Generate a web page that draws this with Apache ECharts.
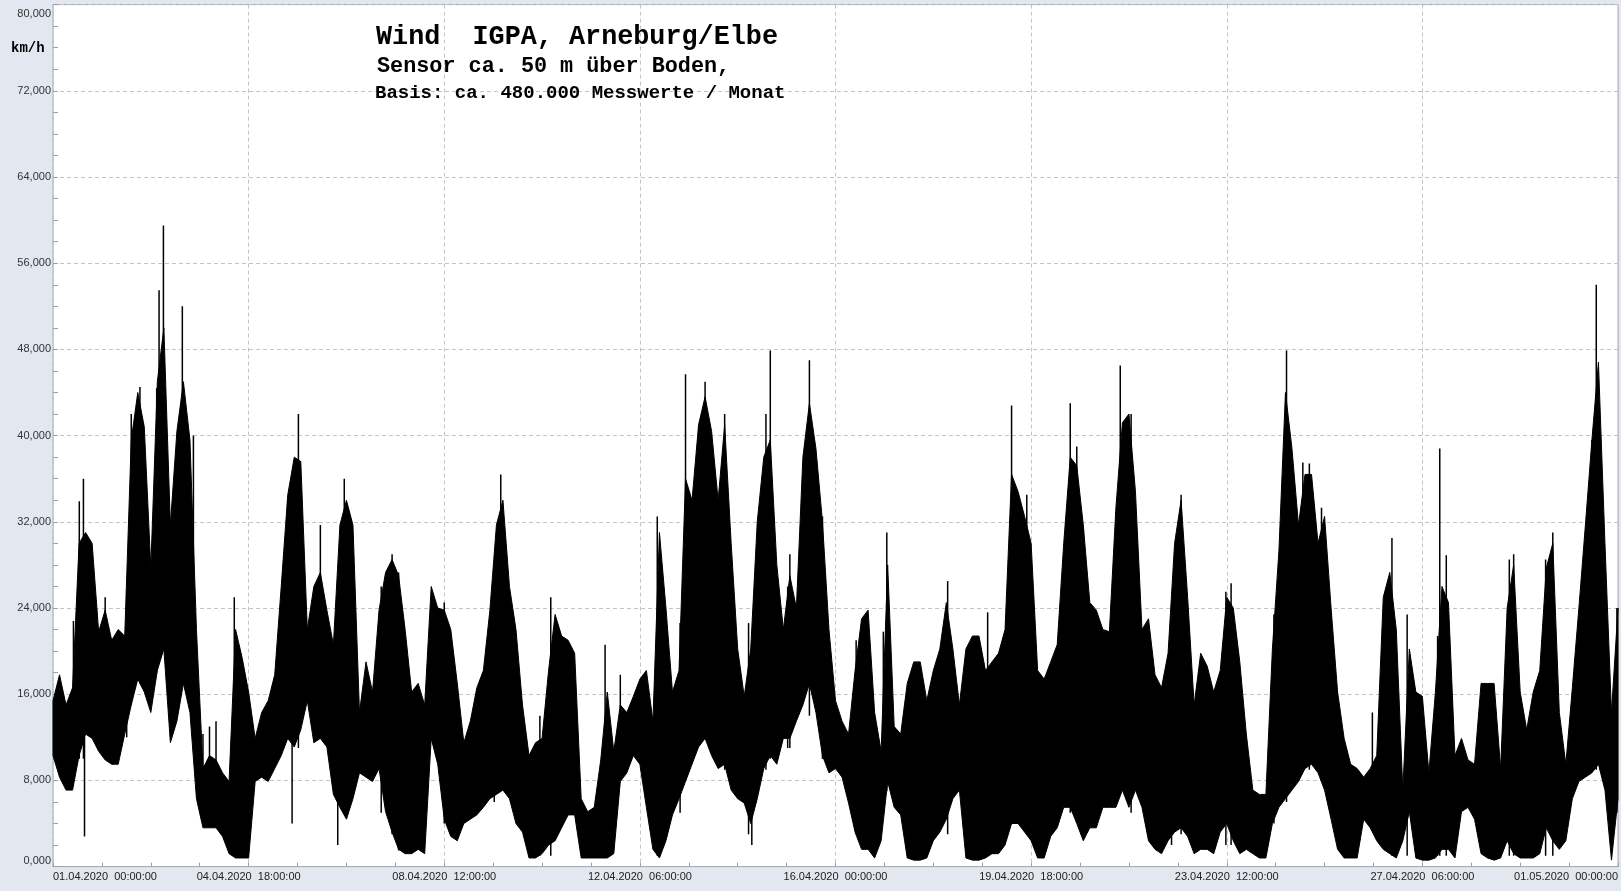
<!DOCTYPE html>
<html>
<head>
<meta charset="utf-8">
<script src="https://cdn.jsdelivr.net/npm/echarts@6/dist/echarts.min.js"></script>
<style>
html,body{margin:0;padding:0;background:#e3e7ef;}
#c{width:1621px;height:891px;}
</style>
</head>
<body>
<div id="c"></div>
<script>
// time step of the envelope arrays (hours from 01.04.2020 00:00)
const stepHours = 3;
// upper envelope of the wind speed (km/h), one value per 3 h
const upper = [
15.4,17.8,15.0,16.6,30.0,31.0,30.0,21.8,23.8,21.0,
22.0,21.4,39.6,44.0,40.8,27.7,45.0,50.0,31.7,40.4,
45.0,39.6,22.0,9.1,10.3,9.9,8.7,7.9,22.0,19.4,
16.2,11.9,14.3,15.4,17.8,26.0,34.5,38.0,37.6,22.0,
26.0,27.3,23.8,20.6,31.7,34.0,31.7,14.3,19.0,16.2,
23.8,27.3,28.5,27.0,22.0,16.2,17.0,15.0,26.0,24.0,
23.8,22.0,17.0,11.5,13.5,16.6,18.2,23.8,31.7,34.0,
26.0,22.0,15.0,10.3,11.5,11.9,18.2,23.4,21.4,21.0,
19.8,6.3,5.1,5.5,9.9,16.2,10.7,15.0,14.3,15.8,
17.4,18.2,13.5,31.0,24.0,16.2,18.2,36.0,34.0,41.0,
43.6,40.4,34.0,41.0,30.0,20.2,15.8,20.2,32.0,38.0,
39.6,28.0,22.0,27.0,24.0,38.0,43.0,38.8,32.0,22.0,
15.4,13.5,12.3,18.2,23.0,23.8,14.3,10.7,28.0,13.0,
12.3,17.0,19.0,19.0,15.4,18.2,20.2,24.5,20.2,15.0,
20.2,21.4,21.4,18.2,19.0,19.8,22.0,36.4,34.8,32.5,
30.0,18.2,17.4,19.0,20.6,30.0,38.0,37.2,31.7,24.5,
23.8,22.0,21.8,33.3,41.2,42.0,34.8,22.0,23.0,17.8,
16.6,19.8,30.0,34.0,25.0,15.0,19.8,18.6,16.2,18.2,
25.0,24.0,19.0,12.3,7.1,6.7,6.7,20.2,29.3,44.0,
38.8,31.7,36.4,36.4,30.0,32.5,24.0,16.2,11.9,9.5,
9.1,8.3,9.1,10.3,25.0,27.3,22.0,7.1,20.2,16.2,
15.8,8.7,16.2,26.0,24.5,10.3,11.9,9.9,9.5,17.0,
17.0,17.0,9.1,24.0,28.0,16.2,12.7,16.2,18.2,27.7,
30.0,14.3,9.5,16.6,24.0,31.7,39.6,46.8,30.0,14.3,
24.0
];
// lower envelope of the wind speed (km/h), one value per 3 h
const lower = [
10.3,8.3,7.1,7.1,10.3,12.3,11.9,10.7,9.9,9.5,
9.5,12.3,15.0,17.4,16.2,14.3,18.2,20.2,11.5,13.5,
17.0,14.3,6.3,3.6,3.6,3.6,2.8,1.2,0.8,0.8,
0.8,7.9,8.3,7.9,9.1,10.3,11.9,11.1,12.7,15.4,
11.5,11.9,11.1,6.7,5.5,4.4,6.3,8.7,8.3,7.9,
9.1,5.1,3.2,1.6,1.2,1.2,1.6,1.2,11.9,9.5,
4.4,2.8,2.4,4.0,4.4,4.8,5.5,6.3,6.7,7.1,
6.3,4.0,3.2,0.8,0.8,1.2,2.0,2.4,3.6,4.8,
4.8,0.8,0.8,0.8,0.8,0.8,1.2,7.9,8.7,10.3,
9.5,5.5,1.6,0.8,2.4,4.8,6.3,7.9,9.5,11.1,
11.9,10.3,9.1,9.5,7.1,6.3,5.9,4.0,6.3,9.1,
10.3,9.5,11.9,11.9,13.5,15.0,17.0,14.3,10.3,8.7,
9.1,8.3,5.9,3.2,1.6,1.6,0.8,2.4,7.9,5.5,
4.8,0.8,0.6,0.6,0.8,2.4,3.2,4.4,6.3,7.1,
0.8,0.6,0.6,0.8,1.2,1.2,2.0,4.0,4.0,3.2,
2.4,0.8,0.8,2.8,3.6,5.5,5.5,4.0,2.4,3.6,
3.6,5.5,5.5,5.5,7.1,5.5,7.1,5.5,2.4,1.6,
1.2,2.4,3.2,3.6,2.8,1.2,1.6,1.6,1.2,3.2,
4.0,2.4,1.2,1.6,1.2,0.8,0.8,4.0,5.5,6.3,
7.1,7.9,9.1,9.5,8.7,7.1,4.4,1.6,0.8,0.8,
0.8,4.4,3.6,2.4,1.6,1.2,0.8,2.4,5.1,0.8,
0.6,0.6,0.8,1.6,1.6,0.8,5.1,5.5,4.4,1.2,
0.8,0.6,0.8,2.4,1.2,0.8,0.8,0.8,1.2,3.6,
2.4,1.6,2.4,6.3,7.9,8.3,8.7,9.5,7.1,0.6,
6.3
];
// single gusts / dips reaching beyond the envelope: hour, bottom, top (km/h)
const spikeHours = [9.4,12.1,14,14.5,24,33.9,36,40,47.7,48.8,50.8,59.5,64.6,69,72,75,83.4,108,110,112.9,
  123,131,134,151,156,159,180,203,206,224,229,
  254,261,278,288.5,291,300,309,320,321.5,328,330,338,339,348,354,
  369.5,382,383.6,411.6,430,441,448,468,471,474,
  491,496,514.6,519,539.6,542,561.7,567.5,575,578,583.6,
  607,616,623,637,638,641,670,672,686.7,690,708,710,719.5];
const spikeLows  = [8,10,10,2.8,10,12,15,17,18,20,20,17,14,4,4,4,1,12,4,11,
  12,2,5,5,3,1.5,4,6,7,1,1,
  1,8,1,5,8,12,9,3,2,9,10,11,11,14,10,
  3,7,7,3,1,4,3,5,5,3,
  7,5,2,3,2,2,4,6,9,9,8,
  4,1,1,1,1,1,1,1,1,1,9,9,5];
const spikeHighs = [22.8,33.9,36,12,25,25.7,42,44.5,44.4,53.5,59.5,52,40,12.3,13,13.5,25,34,12,42,
  31.7,20,36,26,29,27.3,24.5,26.5,36.4,14,25,
  20.6,17.8,32.5,22.6,45.7,45,42,22.6,16,42,47.9,26,29,47,32.5,
  21,21.8,31,26.5,23.6,42.8,34.5,43,39,31.3,
  46.5,42,21.8,34.5,25.5,26.3,23.4,47.9,37.5,37.4,33.3,
  14.3,30.5,23.4,21.4,38.8,28.9,28.5,29,28.5,31,39.6,54,24];

const yMin = 0, yMax = 80, yStep = 8;
const xMin = 0, xMax = 720, xStep = 90;
const startUTC = Date.UTC(2020, 3, 1, 0, 0, 0);

function pad(n){return (n<10?'0':'')+n;}
function fmtHour(h){
  const d = new Date(startUTC + h*3600000);
  return pad(d.getUTCDate())+'.'+pad(d.getUTCMonth()+1)+'.'+d.getUTCFullYear()+'  '+
         pad(d.getUTCHours())+':'+pad(d.getUTCMinutes())+':'+pad(d.getUTCSeconds());
}

// [hour, low, high]
const bandData = upper.map((v,i)=>[i*stepHours, lower[i], v]);
const spikeData = spikeHours.map((h,k)=>[h, spikeLows[k], spikeHighs[k]]);

const chart = echarts.init(document.getElementById('c'), null, {renderer:'canvas'});
const gridCol = '#c4c4c4';
chart.setOption({
  animation:false,
  backgroundColor:'#e3e7ef',
  grid:{left:53,right:3,top:4.6,bottom:24.4,show:true,backgroundColor:'#ffffff',borderColor:'#a4a8b0',borderWidth:1},
  xAxis:{
    type:'value',min:xMin,max:xMax,interval:xStep,
    axisLine:{show:true,lineStyle:{color:'#a4a8b0'}},
    axisTick:{show:true,inside:true,length:4,lineStyle:{color:'#a0a0a0'}},
    minorTick:{show:true,splitNumber:4,length:4,lineStyle:{color:'#a0a0a0'}},
    splitLine:{show:true,lineStyle:{color:gridCol,type:[4,3]}},
    axisLabel:{color:'#222',fontSize:11,fontFamily:'Liberation Sans',margin:5,
      alignMinLabel:'left',alignMaxLabel:'right',formatter:v=>fmtHour(v)}
  },
  yAxis:{
    type:'value',min:yMin,max:yMax,interval:yStep,
    axisLine:{show:false},
    axisTick:{show:true,inside:true,length:5,lineStyle:{color:'#a0a0a0'}},
    minorTick:{show:true,splitNumber:4,length:5,lineStyle:{color:'#a0a0a0'}},
    splitLine:{show:true,lineStyle:{color:gridCol,type:[4,3]}},
    axisLabel:{color:'#333',fontSize:11,fontFamily:'Liberation Sans',margin:2,padding:[4,0,0,0],
      verticalAlignMaxLabel:'top',verticalAlignMinLabel:'bottom',
      formatter:v=>v.toFixed(3).replace('.',',')}
  },
  graphic:[
    {type:'text',x:376,y:37,z:100,style:{text:'Wind  IGPA, Arneburg/Elbe',font:'bold 26.8px "Liberation Mono"',fill:'#000',textVerticalAlign:'middle',verticalAlign:'middle'}},
    {type:'text',x:377,y:67,z:100,style:{text:'Sensor ca. 50 m über Boden,',font:'bold 21.8px "Liberation Mono"',fill:'#000',textVerticalAlign:'middle',verticalAlign:'middle'}},
    {type:'text',x:375,y:93,z:100,style:{text:'Basis: ca. 480.000 Messwerte / Monat',font:'bold 19px "Liberation Mono"',fill:'#000',textVerticalAlign:'middle',verticalAlign:'middle'}},
    {type:'text',x:11,y:48,z:100,style:{text:'km/h',font:'bold 14px "Liberation Mono"',fill:'#000',textVerticalAlign:'middle',verticalAlign:'middle'}}
  ],
  series:[
    {type:'custom',name:'band',data:bandData,encode:{x:0,y:[1,2]},z:3,
      renderItem:(params,api)=>{
        if (params.dataIndex !== 0) return null;
        const top = bandData.map(d=>api.coord([d[0], d[2]]));
        const bot = bandData.map(d=>api.coord([d[0], d[1]])).reverse();
        return {type:'polygon',shape:{points:top.concat(bot)},
          style:{fill:'#000',stroke:'#000',lineWidth:1}};
      }},
    {type:'custom',name:'spikes',data:spikeData,encode:{x:0,y:[1,2]},z:4,
      renderItem:(params,api)=>{
        const p1 = api.coord([api.value(0), api.value(1)]);
        const p2 = api.coord([api.value(0), api.value(2)]);
        return {type:'line',shape:{x1:p1[0],y1:p1[1],x2:p2[0],y2:p2[1]},style:{stroke:'#000',lineWidth:1.5}};
      }}
  ]
});
</script>
</body>
</html>
